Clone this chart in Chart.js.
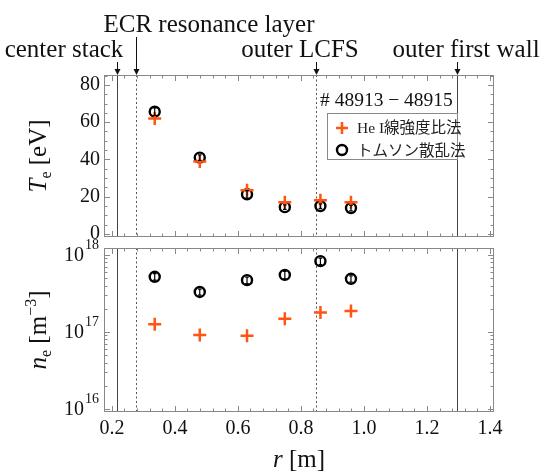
<!DOCTYPE html>
<html>
<head>
<meta charset="utf-8">
<script src="https://cdn.jsdelivr.net/npm/chart.js@4.4.1/dist/chart.umd.min.js"></script>
<style>
  html, body { margin: 0; padding: 0; background: #fff; }
  #wrap { position: relative; width: 542px; height: 472px; }
  #wrap canvas { position: absolute; left: 0; top: 0; }
</style>
</head>
<body>
<div id="wrap">
  <canvas id="teChart" width="542" height="472"></canvas>
  <canvas id="neChart" width="542" height="472"></canvas>
</div>
<script>
// measurement positions [m]
const radius = [0.336, 0.479, 0.629, 0.749, 0.862, 0.959]

// electron temperature [eV]
const teHeI = [61.9, 38.9, 23.5, 17.1, 18.1, 17.1]
const teThomson = [65.6, 41.0, 21.3, 14.4, 15.0, 13.9]
const teThomsonErr = [2.0, 1.5, 2.0, 1.2, 1.2, 1.5]

// electron density [m^-3]
const neHeI = [1.26e17, 9.1e16, 8.9e16, 1.48e17, 1.78e17, 1.87e17]
const neThomson = [5.2e17, 3.3e17, 4.7e17, 5.5e17, 8.3e17, 4.9e17]
const neThomsonErr = [0.5e17, 0.3e17, 0.45e17, 0.6e17, 0.8e17, 0.45e17]

// machine landmarks along r [m]
const landmarkNames = ['center stack', 'ECR resonance layer', 'outer LCFS', 'outer first wall']
const landmarkR = [0.216, 0.276, 0.848, 1.295]
const landmarkDashed = [false, true, true, false]

// ticks
const rTicks = [0.2, 0.4, 0.6, 0.8, 1.0, 1.2, 1.4]
const teTicks = [0, 20, 40, 60, 80]
const neTicks = [1e16, 1e17, 1e18]

const shotLabel = '# 48913 \u2212 48915'
const seriesNames = ['He I線強度比法', 'トムソン散乱法']

const ORANGE = '#ff5414'
const SERIF = '"Liberation Serif", "DejaVu Serif", serif'

// minor tick marks (frame decoration only)
const rMinor = []
for (let i = 4; i <= 36; i++) rMinor.push(Math.round(i * 4) / 100)
const teMinor = []
for (let v = 0; v <= 85; v += 5) teMinor.push(v)
const neMinor = []
for (let d = 15; d <= 18; d++) {
  for (let k = 2; k <= 9; k++) neMinor.push(k * Math.pow(10, d))
}

function drawParts(ctx, parts, cx, cy, angle) {
  ctx.save()
  ctx.translate(cx, cy)
  ctx.rotate(angle || 0)
  let total = 0
  parts.forEach(p => {
    ctx.font = p.font
    p.w = ctx.measureText(p.text).width
    total += p.w
  })
  let x = -total / 2
  ctx.textBaseline = 'alphabetic'
  ctx.textAlign = 'left'
  ctx.fillStyle = '#111'
  parts.forEach(p => {
    ctx.font = p.font
    ctx.fillText(p.text, x, p.dy || 0)
    x += p.w
  })
  ctx.restore()
}

function drawPlus(ctx, x, y, r) {
  ctx.save()
  ctx.strokeStyle = ORANGE
  ctx.lineWidth = 2.5
  ctx.beginPath()
  ctx.moveTo(x - r, y); ctx.lineTo(x + r, y)
  ctx.moveTo(x, y - r); ctx.lineTo(x, y + r)
  ctx.stroke()
  ctx.restore()
}

function drawRing(ctx, x, y, r) {
  ctx.save()
  ctx.strokeStyle = '#000'
  ctx.lineWidth = 2.4
  ctx.beginPath()
  ctx.arc(x, y, r, 0, Math.PI * 2)
  ctx.stroke()
  ctx.restore()
}

// frame, inward ticks, landmark lines, error bars
const framePlugin = {
  id: 'frame',
  beforeDatasetsDraw(chart) {
    const ctx = chart.ctx
    const {top, bottom} = chart.chartArea
    const xs = chart.scales.x
    ctx.save()
    ctx.lineWidth = 1
    landmarkR.forEach((r, i) => {
      const px = Math.round(xs.getPixelForValue(r)) + 0.5
      ctx.strokeStyle = landmarkDashed[i] ? '#555' : '#444'
      ctx.setLineDash(landmarkDashed[i] ? [2, 2.5] : [])
      ctx.beginPath()
      ctx.moveTo(px, top)
      ctx.lineTo(px, bottom)
      ctx.stroke()
    })
    ctx.restore()
  },
  afterDatasetsDraw(chart) {
    const ctx = chart.ctx
    const ys = chart.scales.y
    chart.data.datasets.forEach((ds, di) => {
      if (!ds.errors) return
      const meta = chart.getDatasetMeta(di)
      ctx.save()
      ctx.strokeStyle = '#000'
      ctx.lineWidth = 1.2
      meta.data.forEach((pt, i) => {
        const v = ds.data[i].y
        const y1 = ys.getPixelForValue(v - ds.errors[i])
        const y2 = ys.getPixelForValue(v + ds.errors[i])
        ctx.beginPath()
        ctx.moveTo(pt.x, y1); ctx.lineTo(pt.x, y2)
        ctx.moveTo(pt.x - 1.8, y1); ctx.lineTo(pt.x + 1.8, y1)
        ctx.moveTo(pt.x - 1.8, y2); ctx.lineTo(pt.x + 1.8, y2)
        ctx.stroke()
      })
      ctx.restore()
    })
  },
  afterDraw(chart, args, opts) {
    const ctx = chart.ctx
    const {left, right, top, bottom} = chart.chartArea
    const xs = chart.scales.x
    const ys = chart.scales.y
    ctx.save()
    ctx.strokeStyle = '#888'
    ctx.lineWidth = 1
    ctx.strokeRect(left + 0.5, top + 0.5, right - left - 1, bottom - top - 1)
    ctx.beginPath()
    const xMark = (v, len) => {
      if (v < xs.min || v > xs.max) return
      const px = Math.round(xs.getPixelForValue(v)) + 0.5
      ctx.moveTo(px, bottom); ctx.lineTo(px, bottom - len)
      ctx.moveTo(px, top); ctx.lineTo(px, top + len)
    }
    const yMark = (v, len) => {
      if (v < ys.min || v > ys.max) return
      const py = Math.round(ys.getPixelForValue(v)) + 0.5
      ctx.moveTo(left, py); ctx.lineTo(left + len, py)
      ctx.moveTo(right, py); ctx.lineTo(right - len, py)
    }
    rTicks.forEach(v => xMark(v, 6))
    rMinor.forEach(v => xMark(v, 3.5))
    opts.yMajor.forEach(v => yMark(v, 6))
    opts.yMinor.forEach(v => yMark(v, 3.5))
    ctx.stroke()
    ctx.restore()
  }
}

// texts and arrows above the top panel, legend, axis titles
const teDecor = {
  id: 'teDecor',
  afterDraw(chart) {
    const ctx = chart.ctx
    const xs = chart.scales.x
    const top = chart.chartArea.top
    const labelX = [64, 209, 300, 466]
    const labelY = [57, 32, 57, 57]
    const arrowFrom = [62, 37, 62, 62]
    ctx.save()
    ctx.fillStyle = '#111'
    ctx.strokeStyle = '#111'
    ctx.lineWidth = 1
    ctx.font = '25px ' + SERIF
    ctx.textAlign = 'center'
    ctx.textBaseline = 'alphabetic'
    landmarkNames.forEach((name, i) => {
      ctx.fillText(name, labelX[i], labelY[i])
      const px = Math.round(xs.getPixelForValue(landmarkR[i])) + 0.5
      ctx.beginPath()
      ctx.moveTo(px, arrowFrom[i])
      ctx.lineTo(px, top - 4)
      ctx.stroke()
      ctx.beginPath()
      ctx.moveTo(px - 3, top - 6)
      ctx.lineTo(px + 3, top - 6)
      ctx.lineTo(px, top)
      ctx.closePath()
      ctx.fill()
    })

    // shot numbers
    ctx.textAlign = 'left'
    ctx.font = '19.5px ' + SERIF
    ctx.fillText(shotLabel, 320, 106)

    // legend box
    ctx.fillStyle = '#fff'
    ctx.fillRect(327, 113, 130, 46)
    ctx.strokeStyle = '#8a8a8a'
    ctx.strokeRect(327.5, 113.5, 130, 46)
    drawPlus(ctx, 342, 128, 6)
    drawRing(ctx, 342, 150, 5)
    ctx.fillStyle = '#222'
    ctx.font = '15.5px ' + SERIF + ', "Noto Sans CJK JP"'
    ctx.textBaseline = 'middle'
    ctx.fillText(seriesNames[0], 357, 129)
    ctx.font = '15.5px "Noto Sans CJK JP", ' + SERIF
    ctx.fillText(seriesNames[1], 357, 150)
    ctx.restore()

    drawParts(ctx, [
      {text: 'T', font: 'italic 25px ' + SERIF},
      {text: 'e', font: '16px ' + SERIF, dy: 5},
      {text: ' [eV]', font: '25px ' + SERIF}
    ], 46, (chart.chartArea.top + chart.chartArea.bottom) / 2, -Math.PI / 2)
  }
}

const neDecor = {
  id: 'neDecor',
  afterDraw(chart) {
    const ctx = chart.ctx
    const ys = chart.scales.y
    const area = chart.chartArea
    // decade labels 10^n
    neTicks.forEach(v => {
      const py = ys.getPixelForValue(v)
      const exp = String(Math.round(Math.log10(v)))
      ctx.save()
      ctx.fillStyle = '#111'
      ctx.textBaseline = 'middle'
      ctx.textAlign = 'right'
      ctx.font = '14px ' + SERIF
      const ew = ctx.measureText(exp).width
      ctx.fillText(exp, area.left - 5, py - 10)
      ctx.font = '20px ' + SERIF
      ctx.fillText('10', area.left - 5 - ew - 1, py + 1)
      ctx.restore()
    })

    drawParts(ctx, [
      {text: 'n', font: 'italic 25px ' + SERIF},
      {text: 'e', font: '16px ' + SERIF, dy: 5},
      {text: ' [m', font: '25px ' + SERIF},
      {text: '\u22123', font: '16px ' + SERIF, dy: -10},
      {text: ']', font: '25px ' + SERIF}
    ], 46, (area.top + area.bottom) / 2, -Math.PI / 2)

    drawParts(ctx, [
      {text: 'r', font: 'italic 25px ' + SERIF},
      {text: ' [m]', font: '25px ' + SERIF}
    ], (area.left + area.right) / 2, 467, 0)
  }
}

const toPoints = (xs, ys) => xs.map((x, i) => ({x: x, y: ys[i]}))

const plusSet = (data) => ({
  label: seriesNames[0],
  data: data,
  pointStyle: 'cross',
  radius: 6.5,
  borderColor: ORANGE,
  backgroundColor: ORANGE,
  borderWidth: 2.5
})

const ringSet = (data, errors) => ({
  label: seriesNames[1],
  data: data,
  errors: errors,
  pointStyle: 'circle',
  radius: 5,
  borderColor: '#000',
  backgroundColor: 'rgba(255,255,255,0)',
  borderWidth: 2.4
})

const xScale = (extra) => Object.assign({
  type: 'linear',
  min: 0.175,
  max: 1.413,
  grid: {display: false, drawTicks: false},
  border: {display: false}
}, extra)

new Chart(document.getElementById('teChart'), {
  type: 'scatter',
  data: {
    datasets: [
      plusSet(toPoints(radius, teHeI)),
      ringSet(toPoints(radius, teThomson), teThomsonErr)
    ]
  },
  options: {
    responsive: false,
    animation: false,
    layout: {padding: {top: 75, right: 48, bottom: 235, left: 0}},
    plugins: {
      legend: {display: false},
      tooltip: {enabled: false},
      frame: {yMajor: teTicks, yMinor: teMinor}
    },
    scales: {
      x: xScale({display: false}),
      y: {
        type: 'linear',
        min: -1.6,
        max: 85.3,
        afterBuildTicks: s => { s.ticks = teTicks.map(v => ({value: v})) },
        afterFit: s => { s.width = 104 },
        grid: {display: false, drawTicks: false},
        border: {display: false},
        ticks: {font: {family: SERIF, size: 20}, color: '#111', padding: 4}
      }
    }
  },
  plugins: [framePlugin, teDecor]
})

new Chart(document.getElementById('neChart'), {
  type: 'scatter',
  data: {
    datasets: [
      plusSet(toPoints(radius, neHeI)),
      ringSet(toPoints(radius, neThomson), neThomsonErr)
    ]
  },
  options: {
    responsive: false,
    animation: false,
    layout: {padding: {top: 248, right: 48, bottom: 0, left: 0}},
    plugins: {
      legend: {display: false},
      tooltip: {enabled: false},
      frame: {yMajor: neTicks, yMinor: neMinor}
    },
    scales: {
      x: xScale({
        afterBuildTicks: s => { s.ticks = rTicks.map(v => ({value: v})) },
        afterFit: s => { s.height = 60 },
        ticks: {
          font: {family: SERIF, size: 20},
          color: '#111',
          padding: 5,
          callback: v => Number(v).toFixed(1)
        }
      }),
      y: {
        type: 'logarithmic',
        min: 9.1e15,
        max: 1.23e18,
        afterFit: s => { s.width = 104 },
        grid: {display: false, drawTicks: false},
        border: {display: false},
        ticks: {display: false}
      }
    }
  },
  plugins: [framePlugin, neDecor]
})
</script>
</body>
</html>
